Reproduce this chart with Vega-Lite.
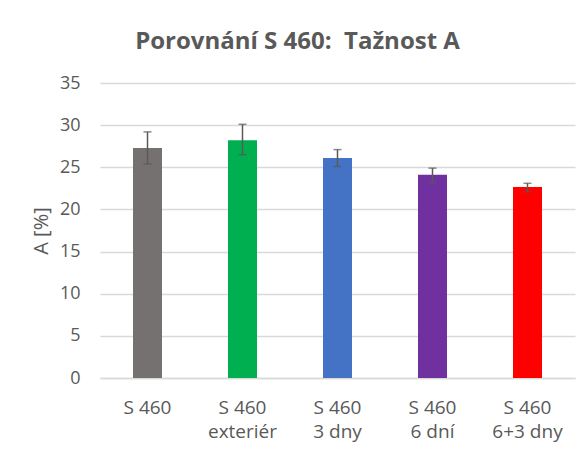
{
  "$schema": "https://vega.github.io/schema/vega-lite/v6.json",
  "autosize": "none",
  "width": 475,
  "height": 295,
  "padding": {"left": 100, "top": 83, "right": 13, "bottom": 74},
  "background": "white",
  "title": {
    "text": "Porovnání S 460:\u00a0 Tažnost A",
    "font": "Open Sans",
    "fontSize": 24,
    "fontWeight": "bold",
    "color": "#595959",
    "anchor": "middle",
    "frame": "group",
    "dx": -40,
    "offset": 20
  },
  "data": {
    "values": [
      {"sample": "S 460", "A": 27.3, "lo": 25.4, "hi": 29.2, "color": "#767171"},
      {"sample": "S 460|exteriér", "A": 28.2, "lo": 26.5, "hi": 30.1, "color": "#00B050"},
      {"sample": "S 460|3 dny", "A": 26.1, "lo": 25.1, "hi": 27.1, "color": "#4472C4"},
      {"sample": "S 460|6 dní", "A": 24.1, "lo": 23.2, "hi": 24.9, "color": "#7030A0"},
      {"sample": "S 460|6+3 dny", "A": 22.65, "lo": 22.1, "hi": 23.1, "color": "#FF0000"}
    ]
  },
  "encoding": {
    "x": {
      "field": "sample",
      "type": "nominal",
      "sort": null,
      "scale": {"paddingInner": 0, "paddingOuter": 0},
      "axis": {
        "title": null,
        "labelAngle": 0,
        "labelExpr": "split(datum.value, '|')",
        "labelFont": "Open Sans",
        "labelFontSize": 19,
        "labelColor": "#595959",
        "labelLineHeight": 24,
        "labelPadding": 20,
        "ticks": false,
        "domainColor": "#d9d9d9",
        "domainWidth": 1.5
      }
    }
  },
  "layer": [
    {
      "mark": {"type": "bar", "width": 29},
      "encoding": {
        "y": {
          "field": "A",
          "type": "quantitative",
          "scale": {"domain": [0, 35], "nice": false},
          "axis": {
            "title": "A [%]",
            "values": [0, 5, 10, 15, 20, 25, 30, 35],
            "titleFont": "Open Sans",
            "titleFontSize": 20,
            "titleFontWeight": "normal",
            "titleColor": "#595959",
            "titlePadding": 8,
            "labelFont": "Open Sans",
            "labelFontSize": 18,
            "labelColor": "#595959",
            "labelPadding": 20,
            "ticks": false,
            "domain": false,
            "gridColor": "#d9d9d9",
            "gridWidth": 1.5
          }
        },
        "color": {"field": "color", "type": "nominal", "scale": null, "legend": null}
      }
    },
    {
      "mark": {"type": "rule", "color": "#595959", "strokeWidth": 1.5},
      "encoding": {
        "y": {"field": "lo", "type": "quantitative"},
        "y2": {"field": "hi"}
      }
    },
    {
      "mark": {"type": "tick", "color": "#595959", "size": 8, "thickness": 1.5, "orient": "horizontal"},
      "encoding": {"y": {"field": "lo", "type": "quantitative"}}
    },
    {
      "mark": {"type": "tick", "color": "#595959", "size": 8, "thickness": 1.5, "orient": "horizontal"},
      "encoding": {"y": {"field": "hi", "type": "quantitative"}}
    }
  ],
  "config": {"view": {"stroke": null}}
}
